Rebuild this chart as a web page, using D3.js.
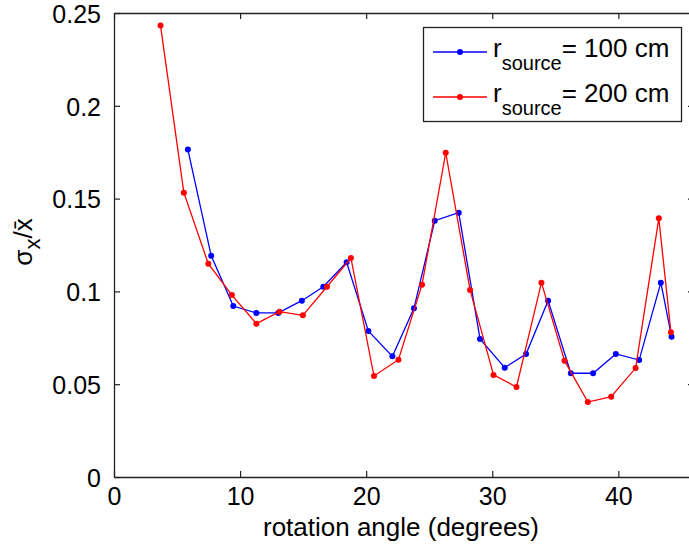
<!DOCTYPE html>
<html>
<head>
<meta charset="utf-8">
<script src="https://cdn.jsdelivr.net/npm/d3@7"></script>
<style>
body { margin: 0; background: #fff; }
text { font-family: Arial, "Liberation Sans", sans-serif; }
</style>
</head>
<body>
<div id="chart"></div>
<script>
// data
var angle100 = [5.86, 7.71, 9.46, 11.29, 13.03, 14.90, 16.60, 18.45, 20.17, 22.08, 23.79, 25.44,
	27.34, 29.03, 30.99, 32.68, 34.43, 36.23, 38.0, 39.8, 41.65, 43.37, 44.22];
var sigma100 = [0.1764, 0.1192, 0.0921, 0.0884, 0.0884, 0.095, 0.1025, 0.1157, 0.0787, 0.065, 0.0909, 0.1381,
	0.1424, 0.0744, 0.0589, 0.0663, 0.095, 0.0559, 0.0559, 0.0663, 0.063, 0.1047, 0.0756];
var angle200 = [3.69, 5.54, 7.48, 9.35, 11.29, 13.13, 14.98, 16.89, 18.79, 20.62, 22.56, 24.43,
	26.31, 28.24, 30.10, 31.92, 33.90, 35.73, 37.58, 39.43, 41.37, 43.21, 44.17];
var sigma200 = [0.2432, 0.1532, 0.1149, 0.098, 0.0826, 0.0891, 0.0871, 0.1025, 0.118, 0.0544, 0.0632, 0.1036,
	0.1747, 0.1008, 0.055, 0.0485, 0.1047, 0.0627, 0.0404, 0.0433, 0.0587, 0.1394, 0.078];
var seriesNames = ["= 100 cm", "= 200 cm"];
var seriesColors = ["#0000ff", "#ff0000"];
var xTicks = [0, 10, 20, 30, 40];
var yTicks = [0, 0.05, 0.1, 0.15, 0.2, 0.25];
var yTickLabels = ["0", "0.05", "0.1", "0.15", "0.2", "0.25"];

var w = 689, h = 545;
var margin = {left: 114, top: 13, right: -5, bottom: 68};
var fontSize = 26;
var tickFont = 25;

var svg = d3.select("#chart").append("svg")
	.attr("width", w)
	.attr("height", h);

var x = d3.scaleLinear().domain([0, 46]).range([margin.left, w - margin.right]);
var y = d3.scaleLinear().domain([0, 0.25]).range([h - margin.bottom, margin.top]);

var tickLen = 6;
var axisColor = "#222";

// ticks on all four sides, pointing inward
var xAxisB = svg.append("g")
	.attr("transform", "translate(0," + y(0) + ")")
	.call(d3.axisBottom(x).tickValues(xTicks).tickSizeInner(-tickLen).tickSizeOuter(0).tickPadding(10)
		.tickFormat(d3.format("d")));
var xAxisT = svg.append("g")
	.attr("transform", "translate(0," + y(0.25) + ")")
	.call(d3.axisTop(x).tickValues(xTicks).tickSizeInner(-tickLen).tickSizeOuter(0).tickFormat(""));
var yAxisL = svg.append("g")
	.attr("transform", "translate(" + x(0) + ",0)")
	.call(d3.axisLeft(y).tickValues(yTicks).tickSizeInner(-tickLen).tickSizeOuter(0).tickPadding(13)
		.tickFormat(function(d, i) { return yTickLabels[i]; }));
var yAxisR = svg.append("g")
	.attr("transform", "translate(" + x(46) + ",0)")
	.call(d3.axisRight(y).tickValues(yTicks).tickSizeInner(-tickLen).tickSizeOuter(0).tickFormat(""));

[xAxisB, xAxisT, yAxisL, yAxisR].forEach(function(a) {
	a.select(".domain").attr("stroke", axisColor).attr("stroke-width", 1.3);
	a.selectAll(".tick line").attr("stroke", axisColor).attr("stroke-width", 1.2);
	a.selectAll("text")
		.attr("fill", "#000")
		.style("font-size", tickFont + "px")
		.style("font-family", "Arial, 'Liberation Sans', sans-serif");
});
xAxisB.selectAll("text").attr("dy", "0.71em");
yAxisL.selectAll("text").attr("dy", "0.37em");

// series
var series = [
	{xs: angle100, ys: sigma100},
	{xs: angle200, ys: sigma200}
];

var line = d3.line()
	.x(function(d) { return x(d[0]); })
	.y(function(d) { return y(d[1]); });

series.forEach(function(s, k) {
	var pts = s.xs.map(function(v, i) { return [v, s.ys[i]]; });
	svg.append("path")
		.datum(pts)
		.attr("d", line)
		.attr("fill", "none")
		.attr("stroke", seriesColors[k])
		.attr("stroke-width", 1.3);
	svg.append("g").selectAll("circle")
		.data(pts)
		.enter().append("circle")
		.attr("cx", function(d) { return x(d[0]); })
		.attr("cy", function(d) { return y(d[1]); })
		.attr("r", 3)
		.attr("fill", seriesColors[k]);
});

// axis titles
svg.append("text")
	.attr("x", 401)
	.attr("y", 536)
	.attr("text-anchor", "middle")
	.style("font-size", fontSize + "px")
	.text("rotation angle (degrees)");

var ylab = svg.append("text")
	.attr("transform", "translate(32,242) rotate(-90)")
	.attr("text-anchor", "middle")
	.style("font-size", fontSize + "px");
ylab.append("tspan").text("σ");
ylab.append("tspan").attr("dy", 8).style("font-size", "22px").text("x");
ylab.append("tspan").attr("dy", -8).text("/x̄");

// legend
var lg = svg.append("g");
lg.append("rect")
	.attr("x", 423.5).attr("y", 27.5)
	.attr("width", 258).attr("height", 94)
	.attr("fill", "#fff")
	.attr("stroke", axisColor)
	.attr("stroke-width", 1.3);

seriesNames.forEach(function(name, i) {
	var ly = 52 + i * 45;
	lg.append("line")
		.attr("x1", 433).attr("x2", 487)
		.attr("y1", ly).attr("y2", ly)
		.attr("stroke", seriesColors[i])
		.attr("stroke-width", 1.3);
	lg.append("circle")
		.attr("cx", 460).attr("cy", ly).attr("r", 3)
		.attr("fill", seriesColors[i]);
	var t = lg.append("text")
		.attr("x", 493)
		.attr("y", ly + 5)
		.style("font-size", fontSize + "px");
	t.append("tspan").text("r");
	t.append("tspan").attr("dy", 13).style("font-size", "20px").text("source");
	t.append("tspan").attr("dy", -13).text(name);
});
</script>
</body>
</html>
